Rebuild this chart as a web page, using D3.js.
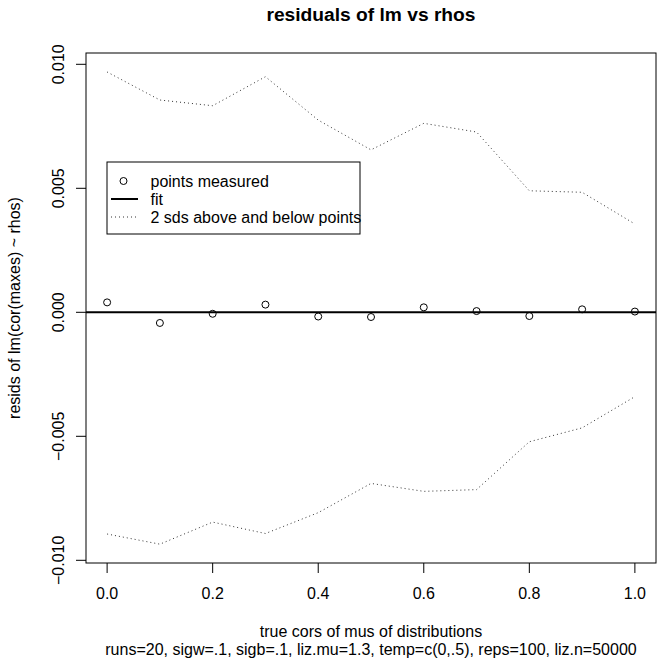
<!DOCTYPE html>
<head>
<meta charset="utf-8">
<style>
  body { margin: 0; background: #fff; }
  text { font-family: "Liberation Sans", Arial, sans-serif; fill: #000; }
  .tick { font-size: 16px; }
  .lab { font-size: 16px; }
  .title { font-size: 19.2px; font-weight: bold; }
</style>
</head>
<body>
<svg id="chart" width="657" height="664"></svg>
<script src="https://cdn.jsdelivr.net/npm/d3@7"></script>
<script>
// values
var rhos   = [0.0, 0.1, 0.2, 0.3, 0.4, 0.5, 0.6, 0.7, 0.8, 0.9, 1.0];
var resids = [0.00040, -0.00043, -0.00006, 0.00031, -0.00017, -0.00019, 0.00020, 0.00005, -0.00015, 0.00012, 0.00003];
var upper  = [0.00969, 0.00856, 0.00833, 0.00950, 0.00775, 0.00655, 0.00762, 0.00727, 0.00490, 0.00484, 0.00356];
var lower  = [-0.00894, -0.00935, -0.00846, -0.00892, -0.00808, -0.00690, -0.00722, -0.00715, -0.00522, -0.00466, -0.00340];
var xTicks = [0, 0.2, 0.4, 0.6, 0.8, 1.0];
var yTicks = [-0.010, -0.005, 0.000, 0.005, 0.010];
var legendLabels = ["points measured", "fit", "2 sds above and below points"];

var svg = d3.select("#chart");
var box = {left: 86, right: 656, top: 53, bottom: 563};

var x = d3.scaleLinear().domain([-0.04, 1.04]).range([box.left, box.right]);
var y = d3.scaleLinear().domain([-0.010109, 0.010456]).range([box.bottom, box.top]);

svg.append("clipPath").attr("id", "clip")
  .append("rect")
  .attr("x", box.left).attr("y", box.top)
  .attr("width", box.right - box.left).attr("height", box.bottom - box.top);

var plot = svg.append("g").attr("clip-path", "url(#clip)");

var line = d3.line().x(function (d, i) { return x(rhos[i]); }).y(function (d) { return y(d); });

// +/- 2 sd dotted lines
[upper, lower].forEach(function (arr) {
  plot.append("path")
    .datum(arr)
    .attr("d", line)
    .attr("fill", "none")
    .attr("stroke", "#333")
    .attr("stroke-width", 1)
    .attr("stroke-dasharray", "1,3");
});

// fit line (abline at 0)
plot.append("line")
  .attr("x1", box.left).attr("x2", box.right)
  .attr("y1", y(0)).attr("y2", y(0))
  .attr("stroke", "#000").attr("stroke-width", 2);

// points
plot.selectAll("circle.pt")
  .data(resids)
  .enter().append("circle")
  .attr("class", "pt")
  .attr("cx", function (d, i) { return x(rhos[i]); })
  .attr("cy", function (d) { return y(d); })
  .attr("r", 3.5)
  .attr("fill", "none")
  .attr("stroke", "#000")
  .attr("stroke-width", 1);

// box
svg.append("rect")
  .attr("x", box.left).attr("y", box.top)
  .attr("width", box.right - box.left).attr("height", box.bottom - box.top)
  .attr("fill", "none").attr("stroke", "#000").attr("stroke-width", 1);

// x axis
var xAxis = svg.append("g");
xAxis.selectAll("line.t").data(xTicks).enter().append("line")
  .attr("x1", x).attr("x2", x)
  .attr("y1", box.bottom).attr("y2", box.bottom + 10)
  .attr("stroke", "#000");
xAxis.selectAll("text").data(xTicks).enter().append("text")
  .attr("class", "tick")
  .attr("x", x).attr("y", 599)
  .attr("text-anchor", "middle")
  .text(function (d) { return d.toFixed(1); });

// y axis
var yAxis = svg.append("g");
yAxis.selectAll("line.t").data(yTicks).enter().append("line")
  .attr("x1", box.left - 10).attr("x2", box.left)
  .attr("y1", y).attr("y2", y)
  .attr("stroke", "#000");
yAxis.selectAll("text").data(yTicks).enter().append("text")
  .attr("class", "tick")
  .attr("transform", function (d) { return "translate(64," + y(d) + ") rotate(-90)"; })
  .attr("text-anchor", "middle")
  .text(function (d) { return d3.format(".3f")(d).replace("-", "\u2212"); });

// titles
var cx = (box.left + box.right) / 2;
svg.append("text").attr("class", "title")
  .attr("x", cx).attr("y", 21)
  .attr("text-anchor", "middle")
  .text("residuals of lm vs rhos");
svg.append("text").attr("class", "lab")
  .attr("x", cx).attr("y", 637)
  .attr("text-anchor", "middle")
  .text("true cors of mus of distributions");
svg.append("text").attr("class", "lab")
  .attr("x", cx).attr("y", 655)
  .attr("text-anchor", "middle")
  .text("runs=20, sigw=.1, sigb=.1, liz.mu=1.3, temp=c(0,.5), reps=100, liz.n=50000");
svg.append("text").attr("class", "lab")
  .attr("transform", "translate(19.5," + (box.top + box.bottom) / 2 + ") rotate(-90)")
  .attr("text-anchor", "middle")
  .text("resids of lm(cor(maxes) ~ rhos)");

// legend
var lg = svg.append("g").attr("transform", "translate(107,162)");
lg.append("rect").attr("width", 253).attr("height", 72)
  .attr("fill", "#fff").attr("stroke", "#000");
var rowY = [19, 37, 55];
lg.append("circle").attr("cx", 16.5).attr("cy", rowY[0]).attr("r", 3.5)
  .attr("fill", "none").attr("stroke", "#000");
lg.append("line").attr("x1", 4).attr("x2", 31).attr("y1", rowY[1]).attr("y2", rowY[1])
  .attr("stroke", "#000").attr("stroke-width", 2);
lg.append("line").attr("x1", 4).attr("x2", 31).attr("y1", rowY[2]).attr("y2", rowY[2])
  .attr("stroke", "#333").attr("stroke-dasharray", "1,3");
lg.selectAll("text").data(legendLabels).enter().append("text")
  .attr("class", "lab")
  .attr("x", 43.5).attr("y", function (d, i) { return rowY[i] + 6; })
  .text(function (d) { return d; });
</script>
</body>
